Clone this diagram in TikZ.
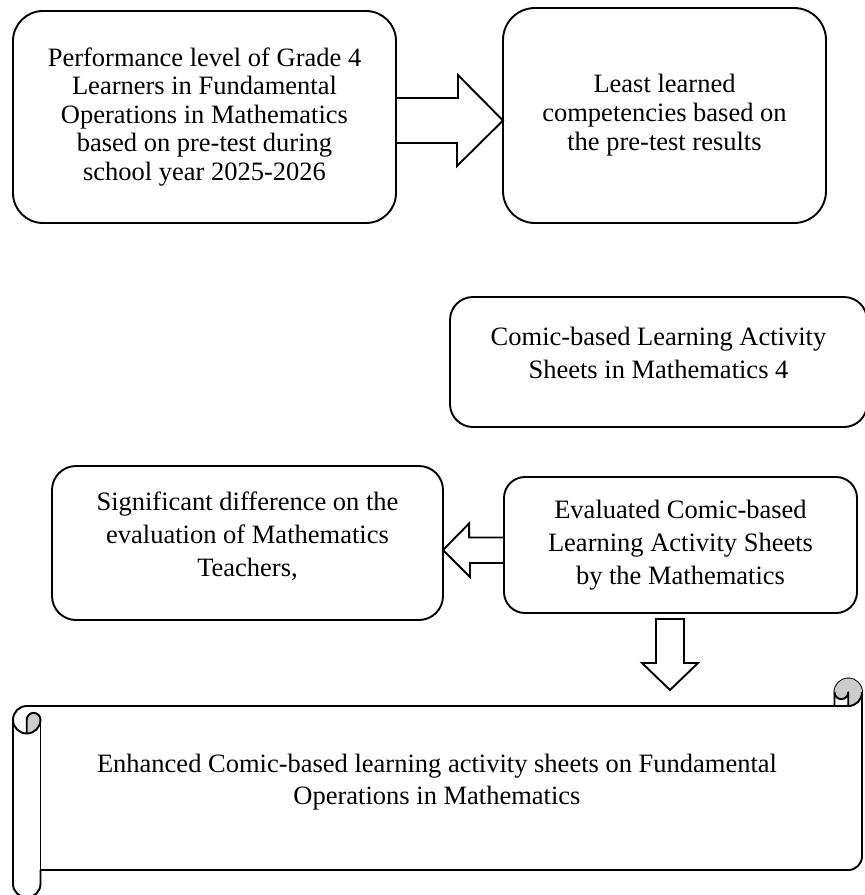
\documentclass[tikz,border=0pt]{standalone}
\usepackage{fontspec}
\setmainfont{Liberation Serif}
\usetikzlibrary{calc}
\begin{document}
\begin{tikzpicture}[x=1pt,y=-1pt,
  box/.style={draw, line width=1.9pt, fill=white, align=center, inner sep=0pt,
    font=\fontsize{26.5}{33}\selectfont},
  barrow/.style={draw, line width=1.9pt, line join=miter},
  scrollline/.style={line width=1.9pt, line join=round},
  curl/.style={fill=black!20}]
\useasboundingbox (0,0) rectangle (865,895);
\clip (0,0) rectangle (865,895);
\fill[white] (0,0) rectangle (865,895);

% boxes
\node[box, rounded corners=30pt, minimum width=383pt, minimum height=212pt,
  font=\fontsize{26.5}{28.5}\selectfont] (A) at (204.5,117)
  {Performance level of Grade 4\\Learners in Fundamental\\Operations in Mathematics\\based on pre-test during\\school year 2025-2026};
\node[box, rounded corners=32pt, minimum width=323pt, minimum height=215pt,
  font=\fontsize{26.5}{29}\selectfont] (B) at (664.5,115.5)
  {Least learned\\competencies based on\\the pre-test results};
\node[box, rounded corners=23pt, minimum width=417pt, minimum height=130pt,
  text depth=18pt] (C) at (658.5,362)
  {Comic-based Learning Activity\\Sheets in Mathematics 4};
\node[box, rounded corners=24pt, minimum width=391pt, minimum height=154pt,
  text depth=17pt] (D) at (247.5,543)
  {Significant difference on the\\evaluation of Mathematics\\Teachers,};
\node[box, rounded corners=21pt, minimum width=353pt, minimum height=136pt] (E) at (680.5,545)
  {Evaluated Comic-based\\Learning Activity Sheets\\by the Mathematics};

% block arrows
\coordinate (t1) at (503,120.5);
\coordinate (t2) at (443,550);
\coordinate (t3) at (670,690);
\draw[barrow] (A.east |- t1) ++(0,-22.5) -- ++(61,0) -- ++(0,-23) -- (t1)
  -- ++(-46,45.5) -- ++(0,-23) -- ++(-61,0);
\draw[barrow] (E.west |- t2) ++(0,-12.5) -- ++(-34,0) -- ++(0,-14) -- (t2)
  -- ++(27,27) -- ++(0,-14) -- ++(34,0);
\draw[barrow] ($(t3)+(-14,-71)$) -- ++(28,0) -- ++(0,44) -- ++(14,0) -- (t3)
  -- ++(-28,-27) -- ++(14,0) -- cycle;

% horizontal scroll
\path[scrollline, draw, fill=white] (13,719.75) arc[start angle=180, delta angle=90, radius=13.75]
  -- (834.5,706) -- (834.5,692.25) arc[start angle=180, delta angle=180, radius=13.75]
  -- (862,856.25) arc[start angle=0, delta angle=90, radius=13.75]
  -- (40.5,870) -- (40.5,883.75) arc[start angle=0, delta angle=180, radius=13.75] -- cycle;
\path[curl] (26.75,733.5) arc[start angle=90, delta angle=-90, radius=13.75]
  arc[start angle=0, delta angle=-180, radius=6.875] -- cycle;
\path[curl] (848.25,706) arc[start angle=90, delta angle=-270, radius=13.75]
  arc[start angle=180, delta angle=-180, radius=6.875] -- cycle;
\draw[scrollline] (834.5,706) -- (848.25,706) arc[start angle=90, delta angle=-90, radius=13.75];
\draw[scrollline] (848.25,706) -- (848.25,692.25) arc[start angle=0, delta angle=180, radius=6.875];
\draw[scrollline] (26.75,733.5) -- (26.75,719.75) arc[start angle=180, delta angle=180, radius=6.875]
  arc[start angle=0, delta angle=180, radius=13.75];
\draw[scrollline] (40.5,719.75) -- (40.5,870);
\node[align=center, inner sep=0pt, font=\fontsize{26.5}{32}\selectfont] (S) at (437,782)
  {Enhanced Comic-based learning activity sheets on Fundamental\\Operations in Mathematics};
\end{tikzpicture}
\end{document}
